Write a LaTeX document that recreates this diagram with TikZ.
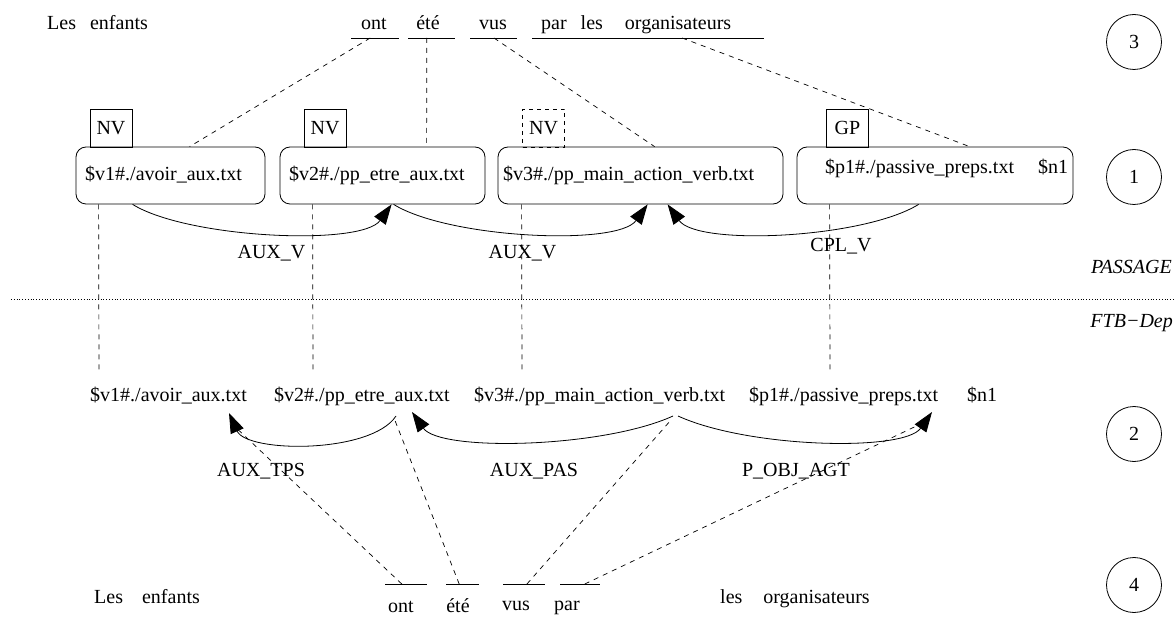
\documentclass[tikz,border=0pt]{standalone}
\usepackage{fontspec}
\setmainfont{Liberation Serif}
\usetikzlibrary{arrows.meta}
\begin{document}
\begin{tikzpicture}[x=1pt,y=-1pt,
  font=\fontsize{20}{24}\selectfont,
  txt/.style={inner sep=0pt, anchor=base west},
  txtc/.style={inner sep=0pt, anchor=base},
  pbox/.style={draw, rounded corners=10pt, minimum height=57pt, inner sep=0pt, line width=0.8pt},
  tagbox/.style={draw, minimum width=42pt, minimum height=38pt, inner sep=0pt, line width=0.8pt},
  numc/.style={draw, circle, minimum size=55pt, inner sep=0pt, line width=0.8pt},
  dl/.style={dash pattern=on 5pt off 5pt, line width=0.7pt},
  uline/.style={line width=0.8pt},
  rel/.style={line width=0.8pt, -{Triangle[length=20pt,width=14pt]}},
  lvl/.style={inner sep=0pt, anchor=base east, font=\fontsize{20}{24}\selectfont\itshape}
]
\useasboundingbox (0,0) rectangle (1175,617);

% ---------- level 3 (top sentence)
\node[txt] (t3les) at (47,30) {Les\hspace{14pt}enfants};
\node[txtc] (t3ont) at (374,30) {ont};
\node[txtc] (t3ete) at (428,30) {été};
\node[txtc] (t3vus) at (493,30) {vus};
\node[txt] (t3par) at (541,30) {par\hspace{14pt}les\hspace{22pt}organisateurs};
\draw[uline] (351,38) -- coordinate[pos=0.4] (u3ont) (399,38);
\draw[uline] (408,38) -- coordinate[pos=0.4] (u3ete) (455,38);
\draw[uline] (470,38) -- coordinate[pos=0.51] (u3vus) (517,38);
\draw[uline] (532,38) -- coordinate[pos=0.647] (u3par) (764,38);

% ---------- level 1 (PASSAGE boxes)
\node[pbox, minimum width=189pt] (b1) at (170.5,175.5) {};
\node[pbox, minimum width=205pt] (b2) at (382.5,175.5) {};
\node[pbox, minimum width=285pt] (b3) at (640.5,175.5) {};
\node[pbox, minimum width=276pt] (b4) at (935,175.5) {};
\node[txt] (b1t) at (85,181) {\$v1\#./avoir\_aux.txt};
\node[txt] (b2t) at (289,181) {\$v2\#./pp\_etre\_aux.txt};
\node[txt] (b3t) at (503,181) {\$v3\#./pp\_main\_action\_verb.txt};
\node[txt] (b4t) at (825,174) {\$p1\#./passive\_preps.txt};
\node[txt] (b4n) at (1038,174) {\$n1};

\node[tagbox] (nv1) at (111,128) {NV};
\node[tagbox] (nv2) at (325,128) {NV};
\node[tagbox, dash pattern=on 4pt off 4pt] (nv3) at (543.5,128) {NV};
\node[tagbox] (gp) at (847.5,128) {GP};

% dashed links level 3 -> level 1
\draw[dl] (u3ont) -- ([xshift=114pt]b1.north west);
\draw[dl] (u3ete) -- ([xshift=147pt]b2.north west);
\draw[dl] (u3vus) -- ([xshift=157pt]b3.north west);
\draw[dl] (u3par) -- ([xshift=173pt]b4.north west);

% PASSAGE relations
\draw[rel] ([xshift=57pt]b1.south west) .. controls +(55,34) and +(-30,42) .. ([xshift=112pt]b2.south west);
\draw[rel] ([xshift=114pt]b2.south west) .. controls +(55,34) and +(-30,42) .. ([xshift=150pt]b3.south west);
\draw[rel] ([xshift=122pt]b4.south west) .. controls +(-55,34) and +(30,42) .. ([xshift=170pt]b3.south west);
\node[txtc] (l1) at (271.5,258.5) {AUX\_V};
\node[txtc] (l2) at (522.5,258.5) {AUX\_V};
\node[txtc] (l3) at (841,251.5) {CPL\_V};

% ---------- separator
\node[lvl] (passage) at (1172,274) {PASSAGE};
\node[lvl] (ftb) at (1173,328) {FTB−Dep};
\coordinate (sepL) at (11,299);
\coordinate (sepR) at (1175,299);
\draw[dotted, line width=0.8pt] (sepL) -- (sepR);

% ---------- level 2 (FTB-Dep words)
\node[txt] (w1) at (90,401) {\$v1\#./avoir\_aux.txt};
\node[txt] (w2) at (274,401) {\$v2\#./pp\_etre\_aux.txt};
\node[txt] (w3) at (474,401) {\$v3\#./pp\_main\_action\_verb.txt};
\node[txt] (w4) at (749,401) {\$p1\#./passive\_preps.txt};
\node[txt] (w5) at (967,401) {\$n1};

% vertical dashed links level 1 -> level 2
\draw[dl] ([xshift=23pt]b1.south west) -- ([xshift=9pt,yshift=13pt]w1.north west);
\draw[dl] ([xshift=33pt]b2.south west) -- ([xshift=39pt,yshift=13pt]w2.north west);
\draw[dl] ([xshift=24pt]b3.south west) -- ([xshift=48pt,yshift=13pt]w3.north west);
\draw[dl] ([xshift=33pt]b4.south west) -- ([xshift=81pt,yshift=13pt]w4.north west);

% FTB relations
\coordinate (v1a) at (229,413);
\coordinate (v2a) at (396,416);
\coordinate (v2b) at (412,412);
\coordinate (v3a) at (673,416);
\coordinate (v3b) at (678,416);
\coordinate (p1a) at (932,412);
\draw[rel] (v2a) .. controls +(-25,38) and +(18,40) .. (v1a);
\draw[rel] (v3a) .. controls +(-70,32) and +(28,40) .. (v2b);
\draw[rel] (v3b) .. controls +(70,32) and +(-28,40) .. (p1a);
\node[txtc] (l4) at (261,476) {AUX\_TPS};
\node[txtc] (l5) at (534,476) {AUX\_PAS};
\node[txtc] (l6) at (796,476) {P\_OBJ\_AGT};

% ---------- level 4 (bottom sentence)
\node[txt] (t4les) at (94,603) {Les\hspace{19pt}enfants};
\node[txtc] (t4ont) at (401,612) {ont};
\node[txtc] (t4ete) at (458,612) {été};
\node[txtc] (t4vus) at (516,610) {vus};
\node[txtc] (t4par) at (567,610) {par};
\node[txt] (t4org) at (720,603) {les\hspace{21pt}organisateurs};
\draw[uline] (385,584) -- coordinate[pos=0.4] (u4ont) (427,584);
\draw[uline] (446,584) -- coordinate[pos=0.4] (u4ete) (479,584);
\draw[uline] (503,584) -- coordinate[pos=0.57] (u4vus) (545,584);
\draw[uline] (560,584) -- coordinate[pos=0.62] (u4par) (600,584);

\coordinate (d1) at (231,423);
\coordinate (d2) at (394,418);
\coordinate (d3) at (671,420);
\coordinate (d4) at (929,420);
\draw[dl] (u4ont) -- (d1);
\draw[dl] (u4ete) -- (d2);
\draw[dl] (u4vus) -- (d3);
\draw[dl] (u4par) -- (d4);

% ---------- level numbers
\node[numc] (n3) at (1134,42) {3};
\node[numc] (n1) at (1134,177) {1};
\node[numc] (n2) at (1134,434) {2};
\node[numc] (n4) at (1134,585) {4};
\end{tikzpicture}
\end{document}
